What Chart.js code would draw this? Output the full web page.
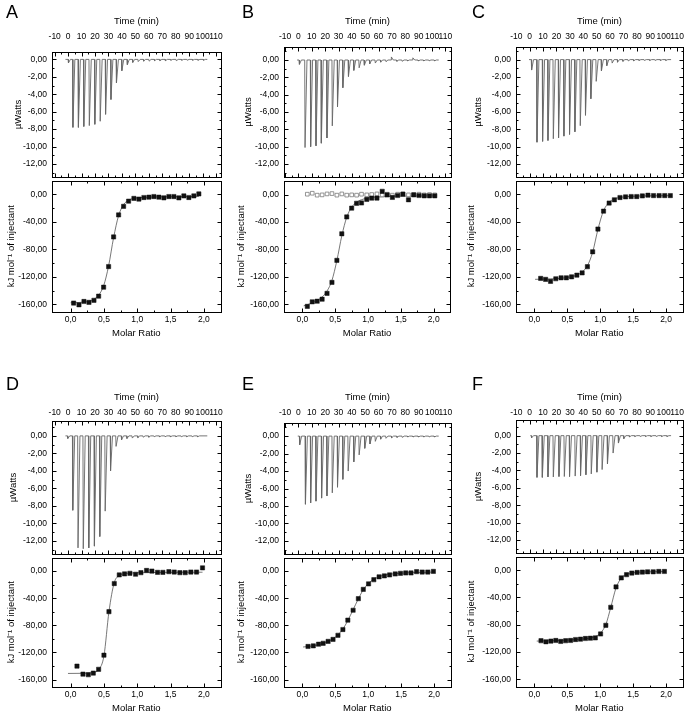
<!DOCTYPE html>
<html>
<head>
<meta charset="utf-8">
<script src="https://cdn.jsdelivr.net/npm/chart.js@4.4.0/dist/chart.umd.min.js"></script>
<style>
  body { margin: 0; background: #fff; }
  #fig { position: relative; width: 688px; height: 718px; overflow: hidden; background: #fff;
         font-family: "Liberation Sans", Arial, Helvetica, sans-serif; }
  #fig canvas { position: absolute; }
  .letter { position: absolute; font-size: 18px; line-height: 18px; color: #000; }
</style>
</head>
<body>
<div id="fig"></div>
<script>
// axis ticks
const timeTicks = [-10, 0, 10, 20, 30, 40, 50, 60, 70, 80, 90, 100, 110];
const timeMinor = [-5, 5, 15, 25, 35, 45, 55, 65, 75, 85, 95, 105];
const powerTicks = [0, -2, -4, -6, -8, -10, -12];
const powerMinor = [1, -1, -3, -5, -7, -9, -11, -13];
const heatTicks = [0, -40, -80, -120, -160];
const heatMinor = [-20, -60, -100, -140];
const ratioTicks = [0, 0.5, 1, 1.5, 2];
const ratioMinor = [0.25, 0.75, 1.25, 1.75];

// --- A ---
const runA = [-2, 103.5];
const injTimeA = [0.0, 3.3, 7.4, 11.4, 15.5, 19.6, 23.6, 27.6, 31.6, 35.7, 39.7, 43.8, 47.8, 51.9, 55.9, 60.0, 64.0, 68.0, 72.1, 76.1, 80.2, 84.2, 88.3, 92.3, 96.3, 100.4];
const injPeakA = [-0.4, -7.8, -7.8, -7.7, -7.6, -7.45, -7.1, -6.3, -4.6, -2.7, -1.3, -0.6, -0.35, -0.25, -0.2, -0.2, -0.15, -0.15, -0.15, -0.1, -0.15, -0.1, -0.1, -0.1, -0.1, -0.1];
const ratioA = [0.045, 0.125, 0.2, 0.275, 0.35, 0.42, 0.495, 0.57, 0.645, 0.72, 0.795, 0.87, 0.95, 1.025, 1.1, 1.175, 1.25, 1.325, 1.4, 1.475, 1.55, 1.625, 1.7, 1.775, 1.85, 1.925];
const heatA = [-158, -160.5, -155.7, -157, -154, -148, -135, -105, -62, -30, -17.5, -10, -6, -7, -4.7, -4.2, -3.3, -4.2, -5.2, -3.3, -3.3, -5.2, -2.4, -4.7, -2.4, 0.5];
const fitRatioA = [0.0, 0.045, 0.125, 0.2, 0.275, 0.35, 0.42, 0.495, 0.57, 0.645, 0.72, 0.795, 0.87, 0.95, 1.1, 1.325, 1.625, 1.925];
const fitHeatA = [-157.6, -157.5, -157.2, -156.6, -155.3, -152.5, -146.5, -133, -104, -63, -31, -15, -8.5, -6, -4.5, -3.8, -3.4, -3.2];

// --- B ---
const runB = [-1, 105];
const injTimeB = [0.5, 4.7, 8.9, 12.9, 16.9, 21.1, 25.1, 29.0, 33.0, 37.2, 41.2, 45.2, 49.1, 53.1, 57.3, 61.3, 65.3, 69.3, 73.4, 77.4, 81.4, 85.4, 89.5, 93.5, 97.5, 101.6];
const injPeakB = [-0.5, -10.1, -10.0, -9.9, -9.6, -9.0, -7.6, -5.4, -3.2, -1.9, -1.2, -0.9, -0.6, -0.45, -0.35, -0.25, -0.2, 0.35, -0.15, -0.15, -0.1, 0.25, -0.1, -0.1, -0.1, -0.1];
const ratioB = [0.075, 0.15, 0.225, 0.3, 0.375, 0.45, 0.525, 0.6, 0.675, 0.75, 0.825, 0.9, 0.98, 1.055, 1.135, 1.215, 1.29, 1.37, 1.45, 1.53, 1.615, 1.695, 1.775, 1.855, 1.935, 2.015];
const heatB = [-162.8, -156.2, -155.3, -152.4, -143.9, -127.9, -95.8, -57.1, -32.6, -19.8, -12.7, -12.3, -7.1, -5.2, -5.2, 4.7, -0.5, -4.2, -1.4, 0.5, -7.6, -0.5, -1.4, -1.9, -1.9, -1.9];
const ctrlHeatB = [0.5, 1.9, -0.9, -0.5, 0.9, 1.4, -0.9, 0.9, -0.9, -0.5, -0.9, 0.5, -0.5, 0.0, 0.9, -0.5, 0.5, -0.9, 0.5, 0.9, -0.5, 0.0, 0.5, -0.5, 0.0, -0.5];
const fitRatioB = [0.02, 0.075, 0.15, 0.225, 0.3, 0.375, 0.45, 0.525, 0.6, 0.675, 0.75, 0.825, 0.9, 0.98, 1.1, 1.3, 1.5, 1.7, 1.9, 2.015];
const fitHeatB = [-162, -160.5, -157.5, -154, -149, -140.5, -125, -96, -60, -33, -18.5, -11, -7.5, -5.5, -4, -3, -2.5, -2.2, -2.0, -1.9];

// --- C ---
const runC = [-0.5, 105.5];
const injTimeC = [1.2, 5.2, 9.4, 13.4, 17.4, 21.3, 25.3, 29.5, 33.5, 37.5, 41.4, 45.4, 49.4, 53.3, 57.3, 61.3, 65.3, 69.3, 73.3, 77.3, 81.3, 85.3, 89.3, 93.3, 97.3, 101.3];
const injPeakC = [-1.2, -9.5, -9.4, -9.3, -9.1, -9.0, -8.8, -8.6, -8.3, -7.6, -6.4, -4.5, -2.5, -1.3, -0.7, -0.4, -0.3, -0.2, -0.15, -0.15, -0.1, -0.1, -0.1, -0.1, -0.1, -0.1];
const ratioC = [0.095, 0.17, 0.245, 0.325, 0.405, 0.485, 0.565, 0.645, 0.725, 0.805, 0.885, 0.965, 1.05, 1.135, 1.215, 1.3, 1.385, 1.47, 1.555, 1.64, 1.725, 1.81, 1.895, 1.98, 2.065];
const heatC = [-122.2, -123.6, -126.5, -122.7, -121.3, -121.3, -119.9, -117.5, -114.2, -105.2, -83.5, -50.5, -24.5, -12.7, -8, -4.7, -3.8, -3.3, -3.3, -2.4, -1.4, -1.9, -1.9, -1.9, -1.9];
const fitRatioC = [0.01, 0.095, 0.245, 0.405, 0.565, 0.645, 0.725, 0.805, 0.885, 0.965, 1.05, 1.135, 1.215, 1.3, 1.47, 1.725, 2.065];
const fitHeatC = [-123.5, -123.4, -123, -122, -119.7, -117.2, -112.8, -103.8, -84, -51, -24, -11.8, -6.8, -4.6, -3, -2.3, -2.0];

// --- D ---
const runD = [-2, 103.5];
const injTimeD = [-0.5, 3.2, 7.1, 11.0, 15.1, 19.3, 23.3, 27.3, 31.3, 35.4, 39.5, 43.5, 47.5, 51.6, 55.6, 59.7, 63.7, 67.7, 71.8, 75.8, 79.9, 83.9, 87.9, 92.0, 96.0];
const injPeakD = [-0.3, -8.5, -12.8, -12.9, -12.8, -12.6, -11.5, -8.6, -4.0, -1.2, -0.45, -0.3, -0.25, -0.2, -0.15, -0.15, -0.1, -0.1, -0.1, -0.1, -0.1, -0.1, -0.1, -0.1, -0.1];
const ratioD = [0.095, 0.185, 0.265, 0.34, 0.42, 0.5, 0.575, 0.655, 0.73, 0.81, 0.89, 0.975, 1.055, 1.14, 1.22, 1.305, 1.385, 1.475, 1.555, 1.64, 1.72, 1.805, 1.89, 1.98];
const heatD = [-140.2, -152, -152.9, -150.5, -144.9, -124.1, -59.9, -18.4, -5.7, -4.2, -3.3, -4.7, -2.4, 0.9, 0, -1.9, -1.9, -0.9, -1.4, -2.4, -2.4, -1.4, -1.4, 4.7];
const fitRatioD = [-0.04, 0.095, 0.185, 0.265, 0.34, 0.42, 0.5, 0.575, 0.655, 0.73, 0.81, 0.89, 1.055, 1.385, 1.72, 1.98];
const fitHeatD = [-151, -150.9, -150.8, -150.5, -149.5, -145.5, -125, -60, -17, -6.5, -4, -3, -2.4, -2, -1.8, -1.7];

// --- E ---
const runE = [-0.5, 105];
const injTimeE = [0.7, 5.0, 8.9, 12.9, 17.1, 21.1, 25.1, 29.0, 33.0, 37.0, 41.2, 45.2, 49.4, 53.3, 57.3, 61.3, 65.3, 69.5, 73.5, 77.5, 81.5, 85.5, 89.5, 93.5, 97.5, 101.5];
const injPeakE = [-1.0, -7.8, -7.65, -7.45, -7.1, -6.85, -6.5, -5.85, -4.95, -4.0, -2.95, -2.15, -1.4, -0.9, -0.6, -0.35, -0.25, -0.2, -0.15, -0.15, -0.1, -0.1, -0.1, -0.1, -0.1, -0.1];
const ratioE = [0.085, 0.165, 0.245, 0.315, 0.39, 0.465, 0.54, 0.615, 0.69, 0.77, 0.85, 0.925, 1.005, 1.085, 1.165, 1.245, 1.325, 1.41, 1.49, 1.57, 1.65, 1.735, 1.82, 1.905, 1.99];
const heatE = [-111.2, -110.3, -107.9, -106.5, -103.7, -100.8, -94.7, -86.2, -72.4, -57.8, -40.7, -27, -18.9, -12.8, -8.5, -7.1, -5.7, -4.3, -3.3, -2.8, -2.8, -0.9, -1.4, -1.4, -0.5];
const fitRatioE = [0.01, 0.085, 0.165, 0.245, 0.315, 0.39, 0.465, 0.54, 0.615, 0.69, 0.77, 0.85, 0.925, 1.005, 1.085, 1.165, 1.245, 1.41, 1.65, 1.99];
const fitHeatE = [-112, -111.3, -110.2, -108.7, -106.8, -104, -100, -94, -85.5, -73, -57, -41, -27.5, -18, -12, -8.3, -6, -3.8, -2.4, -1.5];

// --- F ---
const runF = [0.5, 105.5];
const injTimeF = [1.2, 5.2, 9.2, 13.4, 17.4, 21.6, 25.6, 29.5, 33.7, 37.7, 41.7, 45.7, 49.9, 53.8, 57.8, 62.0, 66.0, 70.0, 74.2, 78.2, 82.2, 86.2, 90.2, 94.2, 98.2, 102.2];
const injPeakF = [-0.25, -4.8, -4.8, -4.75, -4.75, -4.7, -4.7, -4.7, -4.65, -4.6, -4.5, -4.4, -4.2, -3.9, -3.25, -2.0, -0.85, -0.35, -0.15, -0.1, -0.1, -0.1, -0.1, -0.1, -0.1, -0.1];
const ratioF = [0.1, 0.175, 0.25, 0.325, 0.4, 0.475, 0.55, 0.625, 0.7, 0.775, 0.85, 0.925, 1.005, 1.085, 1.16, 1.24, 1.32, 1.4, 1.48, 1.56, 1.64, 1.72, 1.805, 1.89, 1.975];
const heatF = [-103.3, -104.8, -103.8, -102.9, -104.3, -103.3, -102.9, -101.5, -101, -100, -99.6, -99.1, -93.4, -80.7, -54.3, -24.5, -11.3, -6.6, -4.2, -3.3, -2.8, -2.4, -2.4, -1.9, -1.9];
const fitRatioF = [0.035, 0.1, 0.25, 0.4, 0.55, 0.7, 0.85, 0.925, 1.005, 1.085, 1.16, 1.24, 1.32, 1.4, 1.48, 1.64, 1.805, 1.975];
const fitHeatF = [-103.8, -103.7, -103.3, -102.8, -102.1, -101.1, -99.3, -97.2, -92, -79.5, -54.5, -26, -11.5, -6, -4, -2.8, -2.3, -2.0];

// page layout of each panel (pixels) + per-panel axis ranges
const panels = [
  { name: 'A', col: 0,   row: 0,   L: 52,  R: 221, T: 52,  M: 177, B: 312, tMin: -12,   tMax: 113.7, pMax: 0.85,
    run: runA, inj: injTimeA, peak: injPeakA, ratio: ratioA, heat: heatA, fitR: fitRatioA, fitH: fitHeatA },
  { name: 'B', col: 230, row: 0,   L: 284, R: 451, T: 47,  M: 177, B: 312, tMin: -10.8, tMax: 114.2, pMax: 1.5,
    run: runB, inj: injTimeB, peak: injPeakB, ratio: ratioB, heat: heatB, fitR: fitRatioB, fitH: fitHeatB, ctrl: ctrlHeatB },
  { name: 'C', col: 460, row: 0,   L: 516, R: 683, T: 47,  M: 177, B: 312, tMin: -10.2, tMax: 114.4, pMax: 1.45,
    run: runC, inj: injTimeC, peak: injPeakC, ratio: ratioC, heat: heatC, fitR: fitRatioC, fitH: fitHeatC },
  { name: 'D', col: 0,   row: 376, L: 52,  R: 221, T: 421, M: 554, B: 687, tMin: -12,   tMax: 113.7, pMax: 1.7,
    run: runD, inj: injTimeD, peak: injPeakD, ratio: ratioD, heat: heatD, fitR: fitRatioD, fitH: fitHeatD },
  { name: 'E', col: 230, row: 376, L: 284, R: 451, T: 423, M: 554, B: 687, tMin: -10.8, tMax: 114.2, pMax: 1.5,
    run: runE, inj: injTimeE, peak: injPeakE, ratio: ratioE, heat: heatE, fitR: fitRatioE, fitH: fitHeatE },
  { name: 'F', col: 460, row: 376, L: 516, R: 683, T: 420, M: 553, B: 687, tMin: -10.2, tMax: 114.4, pMax: 1.8,
    run: runF, inj: injTimeF, peak: injPeakF, ratio: ratioF, heat: heatF, fitR: fitRatioF, fitH: fitHeatF }
];

Chart.defaults.font.family = '"Liberation Sans", Arial, Helvetica, sans-serif';
Chart.defaults.color = '#000';

const TICK_FONT = { size: 8.5 };
const TITLE_FONT = { size: 9.5 };
const fig = document.getElementById('fig');

// frame box with inward major/minor ticks on all four sides (Origin style)
const frameTicks = {
  id: 'frameTicks',
  afterDatasetsDraw(chart, args, o) {
    const { ctx, chartArea: a } = chart;
    const xs = chart.scales.x, ys = chart.scales.y;
    const x0 = Math.round(a.left) + 0.5, x1 = Math.round(a.right) + 0.5;
    const y0 = Math.round(a.top) + 0.5, y1 = Math.round(a.bottom) + 0.5;
    ctx.save();
    ctx.strokeStyle = '#000';
    ctx.lineWidth = 1;
    ctx.beginPath();
    const onX = (vals, len) => vals.forEach(v => {
      const px = Math.round(xs.getPixelForValue(v)) + 0.5;
      if (px <= x0 || px >= x1) return;
      ctx.moveTo(px, y0); ctx.lineTo(px, y0 + len);
      ctx.moveTo(px, y1); ctx.lineTo(px, y1 - len);
    });
    const onY = (vals, len) => vals.forEach(v => {
      const py = Math.round(ys.getPixelForValue(v)) + 0.5;
      if (py <= y0 || py >= y1) return;
      ctx.moveTo(x0, py); ctx.lineTo(x0 + len, py);
      ctx.moveTo(x1, py); ctx.lineTo(x1 - len, py);
    });
    onX(o.xMajor, 4); onX(o.xMinor, 2);
    onY(o.yMajor, 4); onY(o.yMinor, 2);
    ctx.stroke();
    ctx.strokeRect(x0, y0, x1 - x0, y1 - y0);
    ctx.restore();
  }
};

function addCanvas(left, top, w, h) {
  const c = document.createElement('canvas');
  c.width = w; c.height = h;
  c.style.left = left + 'px'; c.style.top = top + 'px';
  c.style.width = w + 'px'; c.style.height = h + 'px';
  fig.appendChild(c);
  return c;
}

const comma = (v, d) => v.toFixed(d).replace('.', ',');
const fixedTicks = vals => s => { s.ticks = vals.map(v => ({ value: v })); };
const noPad = s => { s.paddingLeft = 0; s.paddingRight = 0; s.paddingTop = 0; s.paddingBottom = 0; };
const pts = (xs, ys) => xs.map((x, i) => ({ x: x, y: ys[i] }));

// raw heat-flow trace: flat baseline with one sharp spike per injection
function thermo(run, times, peaks) {
  const out = [{ x: run[0], y: 0 }];
  times.forEach((t, i) => {
    out.push({ x: t, y: 0 }, { x: t + 0.25, y: peaks[i] }, { x: t + 1.7, y: 0 });
  });
  out.push({ x: run[1], y: 0 });
  return out;
}

const baseOpts = {
  responsive: false,
  animation: false,
  devicePixelRatio: 1,
  events: [],
  plugins: { legend: { display: false }, tooltip: { enabled: false } }
};

panels.forEach(p => {
  const w = Math.min(p.R + 4, 688) - p.col;

  // upper layer: µW vs time
  const h1 = p.M + 1 - p.row;
  new Chart(addCanvas(p.col, p.row, w, h1), {
    type: 'line',
    data: {
      datasets: [{
        data: thermo(p.run, p.inj, p.peak),
        borderColor: '#666', borderWidth: 0.9, pointRadius: 0, tension: 0
      }]
    },
    options: Object.assign({}, baseOpts, {
      layout: { padding: { left: 0, top: 0, right: w - (p.R - p.col), bottom: 1 } },
      plugins: Object.assign({}, baseOpts.plugins, {
        frameTicks: { xMajor: timeTicks, xMinor: timeMinor, yMajor: powerTicks, yMinor: powerMinor }
      }),
      scales: {
        x: {
          type: 'linear', position: 'top', min: p.tMin, max: p.tMax,
          afterBuildTicks: fixedTicks(timeTicks),
          afterFit: s => { s.height = p.T - p.row; noPad(s); },
          grid: { display: false, drawTicks: false }, border: { display: false },
          ticks: { autoSkip: false, maxRotation: 0, font: TICK_FONT,
                   padding: p.T - p.row - 36.2 - 5.1, callback: v => String(v) },
          title: { display: true, text: 'Time (min)', font: TITLE_FONT, padding: { top: 15.8, bottom: 0 } }
        },
        y: {
          type: 'linear', min: -13.5, max: p.pMax,
          afterBuildTicks: fixedTicks(powerTicks),
          afterFit: s => { s.width = p.L - p.col; noPad(s); },
          grid: { display: false, drawTicks: false }, border: { display: false },
          ticks: { autoSkip: false, font: TICK_FONT, padding: 5, callback: v => comma(v, 2) },
          title: { display: true, text: 'µWatts', font: TITLE_FONT,
                   padding: { top: p.name === 'D' ? 7.6 : 12.6, bottom: 0 } }
        }
      }
    }),
    plugins: [frameTicks]
  });

  // lower layer: integrated heats vs molar ratio
  const top2 = p.M - 1;
  const h2 = Math.min(p.B + 30, 718) - top2;
  const sets = [{
    data: pts(p.ratio, p.heat), showLine: false, pointStyle: 'rect',
    pointRadius: 3, borderWidth: 0.5, backgroundColor: '#111', borderColor: '#111'
  }];
  if (p.ctrl) {
    sets.push({
      data: pts(p.ratio, p.ctrl), showLine: false, pointStyle: 'rect',
      pointRadius: 2.6, borderWidth: 0.8, backgroundColor: '#fff', borderColor: '#7a7a7a'
    });
  }
  sets.push({
    data: pts(p.fitR, p.fitH), borderColor: '#555', borderWidth: 0.8,
    pointRadius: 0, cubicInterpolationMode: 'monotone'
  });
  new Chart(addCanvas(p.col, top2, w, h2), {
    type: 'line',
    data: { datasets: sets },
    options: Object.assign({}, baseOpts, {
      layout: { padding: { left: 0, top: 1, right: w - (p.R - p.col), bottom: 0 } },
      plugins: Object.assign({}, baseOpts.plugins, {
        frameTicks: { xMajor: ratioTicks, xMinor: ratioMinor, yMajor: heatTicks, yMinor: heatMinor }
      }),
      scales: {
        x: {
          type: 'linear', position: 'bottom', min: -0.28, max: 2.25,
          afterBuildTicks: fixedTicks(ratioTicks),
          afterFit: s => { s.height = h2 - 1 - (p.B - p.M); noPad(s); },
          grid: { display: false, drawTicks: false }, border: { display: false },
          ticks: { autoSkip: false, maxRotation: 0, font: TICK_FONT, padding: 3, callback: v => comma(v, 1) },
          title: { display: true, text: 'Molar Ratio', font: TITLE_FONT, padding: { top: 0, bottom: 3.3 } }
        },
        y: {
          type: 'linear', min: -171, max: 20,
          afterBuildTicks: fixedTicks(heatTicks),
          afterFit: s => { s.width = p.L - p.col; noPad(s); },
          grid: { display: false, drawTicks: false }, border: { display: false },
          ticks: { autoSkip: false, font: TICK_FONT, padding: 5, callback: v => comma(v, 2) },
          title: { display: true, text: 'kJ mol⁻¹ of injectant', font: TITLE_FONT, padding: { top: 6, bottom: 0 } }
        }
      }
    }),
    plugins: [frameTicks]
  });

  // panel letter
  const lab = document.createElement('div');
  lab.className = 'letter';
  lab.textContent = p.name;
  lab.style.left = (p.col + (p.col === 0 ? 6 : 12)) + 'px';
  lab.style.top = (p.row + (p.row === 0 ? 3 : -1.5)) + 'px';
  fig.appendChild(lab);
});
</script>
</body>
</html>
